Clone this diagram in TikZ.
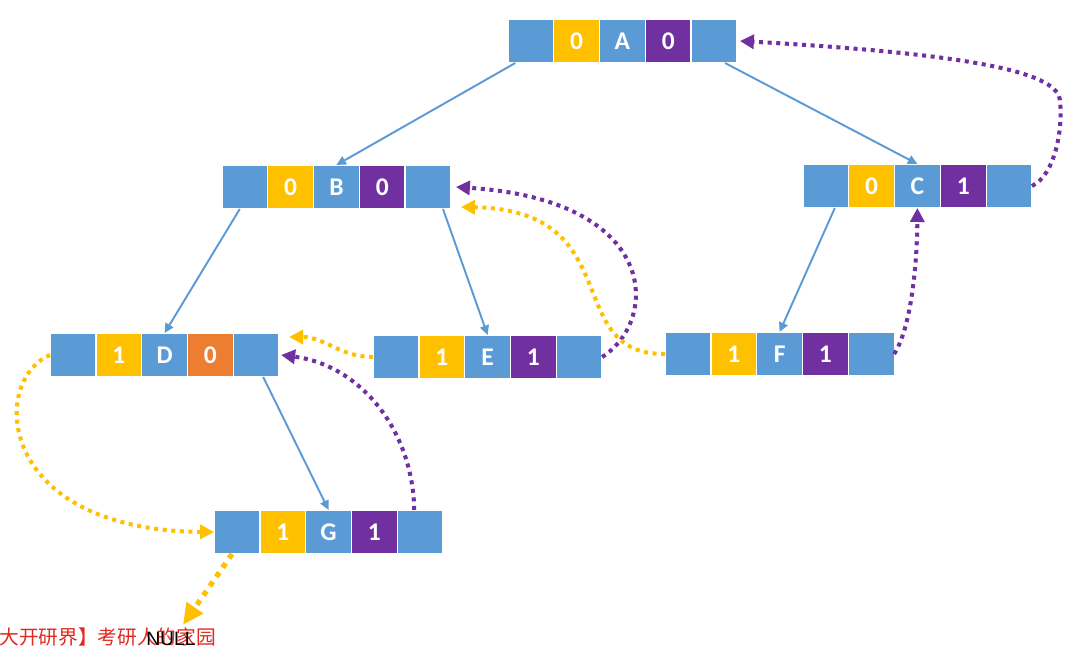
\documentclass[tikz,border=0pt]{standalone}
\usepackage{fontspec}
\setmainfont{Carlito}
\newfontfamily\nulltxtfont{Liberation Sans}
\newfontfamily\cjkfont{Noto Sans CJK SC}
\usetikzlibrary{arrows.meta, positioning, calc}
\definecolor{tbBlue}{HTML}{5B9BD5}
\definecolor{tbYellow}{HTML}{FFC000}
\definecolor{tbPurple}{HTML}{7030A0}
\definecolor{tbOrange}{HTML}{ED7D31}
\definecolor{tbRed}{HTML}{E0281E}
\tikzset{
  cell/.style={
    draw=white, line width=0.7pt, inner sep=0pt, outer sep=0pt,
    minimum width=9.16mm, minimum height=8.8mm,
    font=\fontsize{14.5}{16}\selectfont\bfseries, text=white
  },
  ptr/.style={cell, fill=tbBlue},
  ltag/.style={cell, fill=tbYellow},
  rtagp/.style={cell, fill=tbPurple},
  rtago/.style={cell, fill=tbOrange},
  edge/.style={-{Triangle[length=1.9mm, width=1.8mm]}, line width=1.1pt, draw=tbBlue},
  thp/.style={-{Triangle[length=2.8mm, width=2.8mm]}, line width=2.3pt,
    draw=tbPurple, fill=none, dash pattern=on 2.3pt off 2.6pt},
  thy/.style={thp, draw=tbYellow},
  thnull/.style={-{Triangle[length=4.2mm, width=3.8mm]}, line width=3pt,
    draw=tbYellow, dash pattern=on 3pt off 3.4pt},
  nulltext/.style={font=\nulltxtfont\fontsize{11}{13}\selectfont, text=black, inner sep=0pt},
  wmark/.style={font=\cjkfont\fontsize{11.2}{13}\selectfont, text=tbRed, inner sep=0pt},
}
% one node of the threaded tree: name, x, y, ltag, data, rtag, rtag style
\newcommand{\thnode}[7]{
  \node[ptr] (#1-l) at (#2,#3) {};
  \node[ltag, right=0pt of #1-l] (#1-lt) {#4};
  \node[ptr, right=0pt of #1-lt] (#1-d) {#5};
  \node[#7, right=0pt of #1-d] (#1-rt) {#6};
  \node[ptr, right=0pt of #1-rt] (#1-r) {};
}

\begin{document}
\begin{tikzpicture}[x=0.2mm, y=-0.2mm]
  \useasboundingbox (0,0) rectangle (1090,655);

  \node[wmark, anchor=west] (wm) at (-1,637) {大开研界】考研人的家园};

  \thnode{A}{530.8}{41}{0}{A}{0}{rtagp}
  \thnode{B}{244.8}{187}{0}{B}{0}{rtagp}
  \thnode{C}{825.8}{186}{0}{C}{1}{rtagp}
  \thnode{D}{73}{355}{1}{D}{0}{rtago}
  \thnode{E}{396}{357}{1}{E}{1}{rtagp}
  \thnode{F}{688}{354}{1}{F}{1}{rtagp}
  \thnode{G}{237}{532}{1}{G}{1}{rtagp}

  \node[nulltext] (nul) at (171,639) {NULL};

  % tree links
  \draw[edge] ([xshift=-3.1mm]A-l.south) -- (B-d.north);
  \draw[edge] ([xshift=2.2mm]A-r.south) -- (C-d.north);
  \draw[edge] ([xshift=-1mm]B-l.south) -- (D-d.north);
  \draw[edge] ([xshift=3mm]B-r.south) -- (E-d.north);
  \draw[edge] ([xshift=1.8mm]C-l.south) -- (F-d.north);
  \draw[edge] ([xshift=1.4mm]D-r.south) -- (G-d.north);

  % threads
  \draw[thp] (C-r.east) .. controls (1055,175) and (1063,130) .. (1060,100)
    .. controls (1057,75) and (990,55) .. ([xshift=0.6mm]A-r.east);
  \draw[thp] (E-r.east) .. controls (660,320) and (660,200) .. ([xshift=1mm]B-r.east);
  \draw[thy] (F-l.west) .. controls (560,355) and (630,210) .. ([xshift=2mm, yshift=0.4mm]B-r.south east);
  \draw[thp] (F-r.east) .. controls (910,330) and (917,270) .. (C-d.south);
  \draw[thp] ([xshift=-1.2mm]G-r.north) .. controls (413,430) and (360,365) .. ([xshift=0.4mm]D-r.east);
  \draw[thy] (E-l.west) .. controls (340,357) and (325,337) .. ([xshift=2mm, yshift=-0.8mm]D-r.north east);
  \draw[thy] (D-l.west) .. controls (-10,380) and (-5,530) .. (G-l.west);
  \draw[thnull] ([xshift=-1mm]G-l.south) -- ([xshift=2.4mm, yshift=1.4mm]nul.north);
\end{tikzpicture}
\end{document}
